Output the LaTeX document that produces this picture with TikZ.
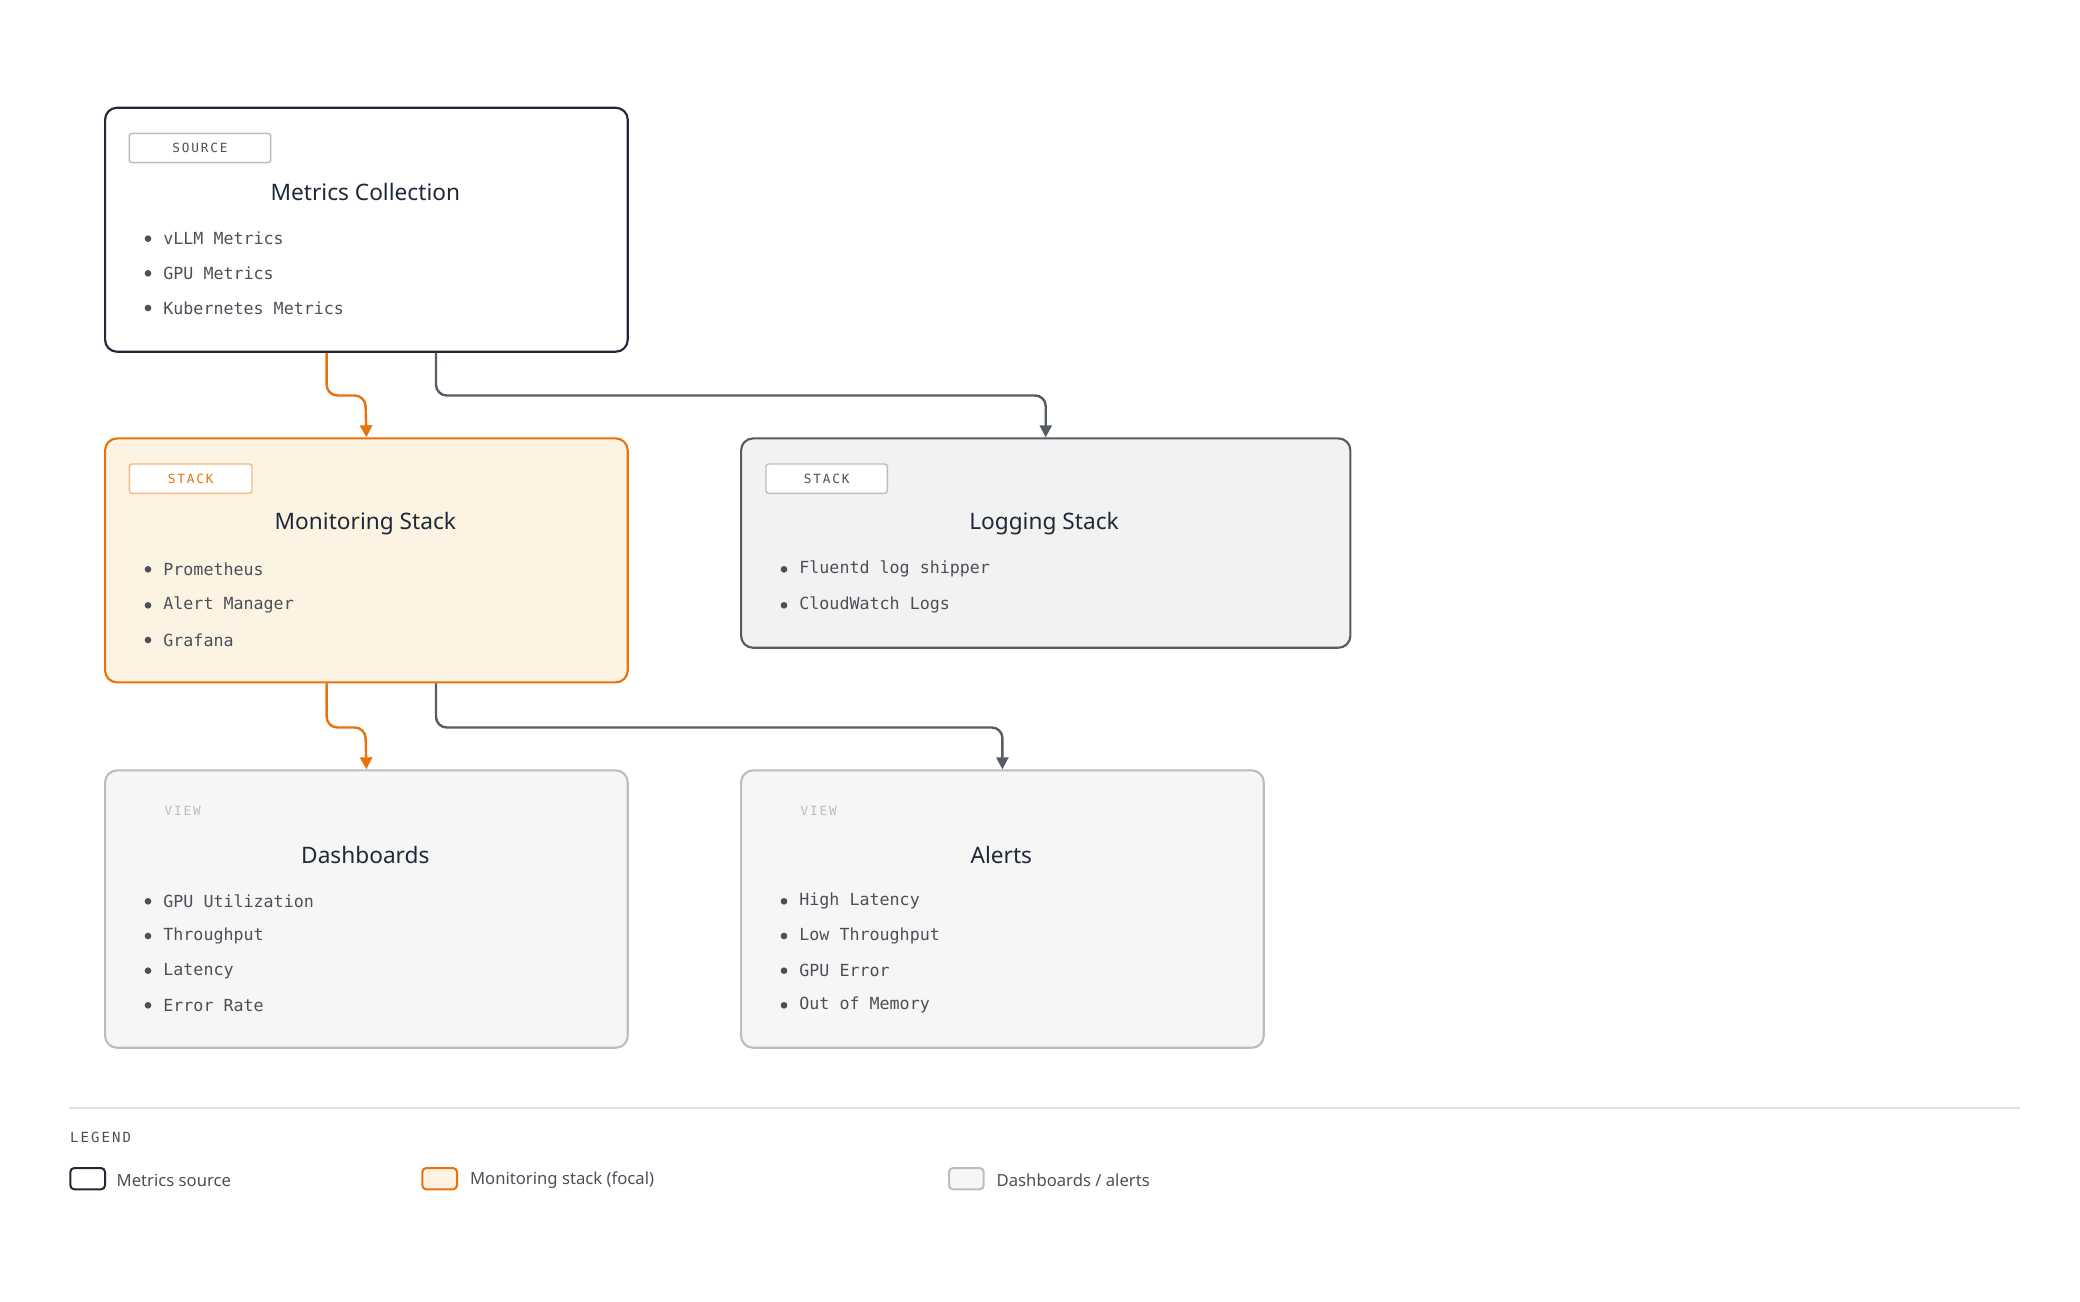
\documentclass[tikz,border=0pt]{standalone}
\usepackage{fontspec}
\setmainfont{Noto Sans}
\newfontfamily\monof{DejaVu Sans Mono}
\newfontfamily\tagf[LetterSpace=15]{DejaVu Sans Mono}
\usetikzlibrary{arrows.meta}
\definecolor{ink}{HTML}{1F2937}
\definecolor{txt}{HTML}{4B5058}
\definecolor{org}{HTML}{E8730C}
\definecolor{orgfill}{HTML}{FDF3E3}
\definecolor{gline}{HTML}{555C66}
\definecolor{lgray}{HTML}{BDBDBD}
\begin{document}
\begin{tikzpicture}[x=1pt,y=-1pt,
 box/.style={draw,rounded corners=9pt,line width=1.6pt},
 tag/.style={draw=lgray,rounded corners=2pt,line width=1.1pt,font=\tagf\fontsize{9.5}{10}\selectfont,text=txt},
 ttl/.style={font=\fontsize{17}{20}\selectfont\bfseries,text=ink},
 item/.style={anchor=west,font=\monof\fontsize{12.5}{14}\selectfont,text=txt},
 dot/.style={fill=txt,draw=none,circle,inner sep=0pt,minimum size=5pt},
 con/.style={line width=1.8pt,rounded corners=8pt,-{Triangle[length=9pt,width=9pt]}}]
\useasboundingbox (0,0) rectangle (1560,976);
% boxes
\node[box,draw=ink,fill=white,minimum width=392pt,minimum height=183pt,anchor=north west] (mc) at (78,80) {};
\node[box,draw=org,fill=orgfill,minimum width=392pt,minimum height=183pt,anchor=north west] (ms) at (78,328) {};
\node[box,draw=gline,fill=black!5,minimum width=457pt,minimum height=157pt,anchor=north west] (ls) at (555,328) {};
\node[box,draw=lgray,fill=black!3.5,minimum width=392pt,minimum height=208pt,anchor=north west] (db) at (78,577) {};
\node[box,draw=lgray,fill=black!3.5,minimum width=392pt,minimum height=208pt,anchor=north west] (al) at (555,577) {};
% tags
\node[tag,fill=white,minimum width=106pt,minimum height=22pt] (t1) at (150,111) {SOURCE};
\node[tag,draw=org!50,text=org,fill=white,minimum width=92pt,minimum height=22pt] (t2) at (143,359) {STACK};
\node[tag,fill=white,minimum width=91pt,minimum height=22pt] (t3) at (620,359) {STACK};
\node[tag,draw=none,text=lgray] (t4) at (137,608) {VIEW};
\node[tag,draw=none,text=lgray] (t5) at (614,608) {VIEW};
% titles
\node[ttl] (h1) at (274,144) {Metrics Collection};
\node[ttl] (h2) at (274,393) {Monitoring Stack};
\node[ttl] (h3) at (783,393) {Logging Stack};
\node[ttl] (h4) at (274,641) {Dashboards};
\node[ttl] (h5) at (751,641) {Alerts};
% items
\foreach \x/\y/\s [count=\i] in {
 111/179/vLLM Metrics, 111/205/GPU Metrics, 111/231/Kubernetes Metrics,
 111/427/Prometheus, 111/454/Alert Manager, 111/480/Grafana,
 588/427/Fluentd log shipper, 588/454/CloudWatch Logs / ElasticSearch -> Kibana,
 111/676/GPU Utilization, 111/702/Throughput, 111/728/Latency, 111/754/Error Rate,
 588/676/High Latency, 588/702/Low Throughput, 588/728/GPU Error, 588/754/Out of Memory}{
 \node[dot] (d\i) at (\x,\y) {};
 \node[item] (i\i) at (\x+8,\y) {\s};
}
% connectors
\draw[con,org] (mc.south west)++(167,0) coordinate (a1) -- ++(0,32) -- ++(29,0) -- (ms.north);
\draw[con,gline] (mc.south west)++(249,0) coordinate (a2) -- ++(0,32) -| (ls.north);
\draw[con,org] (ms.south west)++(167,0) coordinate (a3) -- ++(0,33) -- ++(29,0) -- (db.north);
\draw[con,gline] (ms.south west)++(249,0) coordinate (a4) -- ++(0,33) -| (al.north);
% legend
\draw[black!12,line width=1pt] (52,831) coordinate (l1) -- (1515,831) coordinate (l2);
\node[anchor=west,font=\tagf\fontsize{10.5}{12}\selectfont,text=txt] (lg) at (49,853) {LEGEND};
\node[draw=ink,fill=white,line width=1.5pt,rounded corners=3pt,minimum width=26pt,minimum height=16pt,anchor=west] (s1) at (52,884) {};
\node[anchor=west,font=\fontsize{12.5}{14}\selectfont,text=txt] (x1) at (84,885) {Metrics source};
\node[draw=org,fill=orgfill,line width=1.5pt,rounded corners=3pt,minimum width=26pt,minimum height=16pt,anchor=west] (s2) at (316,884) {};
\node[anchor=west,font=\fontsize{12.5}{14}\selectfont,text=txt] (x2) at (349,885) {Monitoring stack (focal)};
\node[draw=lgray,fill=black!3.5,line width=1.5pt,rounded corners=3pt,minimum width=26pt,minimum height=16pt,anchor=west] (s3) at (711,884) {};
\node[anchor=west,font=\fontsize{12.5}{14}\selectfont,text=txt] (x3) at (744,885) {Dashboards / alerts};
\end{tikzpicture}
\end{document}
